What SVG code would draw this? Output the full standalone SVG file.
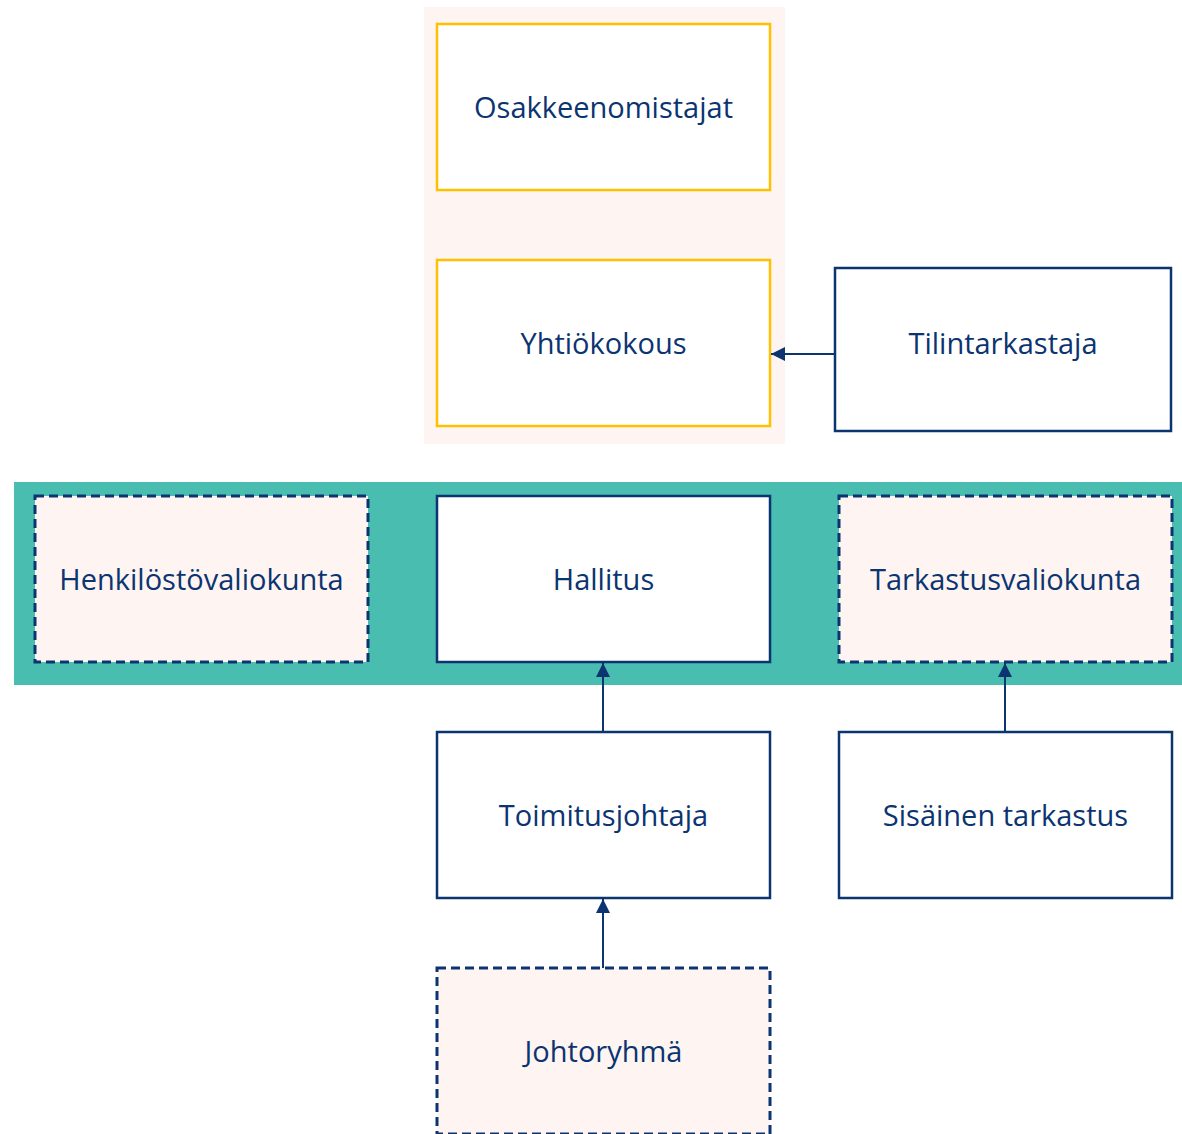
<svg xmlns="http://www.w3.org/2000/svg" width="1182" height="1134" viewBox="0 0 1182 1134">
<defs>
<style>
.t{font-family:"Open Sans","Noto Sans",sans-serif;font-size:29px;fill:#0B3470;text-anchor:middle;dominant-baseline:central}
.y{fill:#fff;stroke:#FFC000;stroke-width:2.5}
.n{fill:#fff;stroke:#0B3470;stroke-width:2.5}
.d{fill:#FEF4F2;stroke:#0B3470;stroke-width:3;stroke-dasharray:9 5}
.c{stroke:#0B3470;stroke-width:2;fill:none;marker-end:url(#ah)}
</style>
<marker id="ah" viewBox="0 0 14 14" refX="14" refY="7" markerWidth="14" markerHeight="14" markerUnits="userSpaceOnUse" orient="auto">
<path d="M0,0 L14,7 L0,14 z" fill="#0B3470"/>
</marker>
</defs>
<rect x="424" y="7" width="361" height="437" fill="#FEF4F2"/>
<rect x="14" y="482" width="1168" height="203" fill="#48BDB0"/>
<g id="osakkeenomistajat"><rect class="y" x="437" y="24" width="333" height="166"/><text class="t" x="603.5" y="106">Osakkeenomistajat</text></g>
<g id="yhtiokokous"><rect class="y" x="437" y="260" width="333" height="166"/><text class="t" x="603.5" y="342">Yhtiökokous</text></g>
<g id="tilintarkastaja"><rect class="n" x="835" y="268" width="336" height="163"/><text class="t" x="1003" y="342">Tilintarkastaja</text></g>
<g id="henkilostovaliokunta"><rect class="d" x="35" y="496" width="333" height="166"/><text class="t" x="201.5" y="578">Henkilöstövaliokunta</text></g>
<g id="hallitus"><rect class="n" x="437" y="496" width="333" height="166"/><text class="t" x="603.5" y="578">Hallitus</text></g>
<g id="tarkastusvaliokunta"><rect class="d" x="839" y="496" width="333" height="166"/><text class="t" x="1005.5" y="578">Tarkastusvaliokunta</text></g>
<g id="toimitusjohtaja"><rect class="n" x="437" y="732" width="333" height="166"/><text class="t" x="603.5" y="814">Toimitusjohtaja</text></g>
<g id="sisainen"><rect class="n" x="839" y="732" width="333" height="166"/><text class="t" x="1005.5" y="814">Sisäinen tarkastus</text></g>
<g id="johtoryhma"><rect class="d" x="437" y="968" width="333" height="166"/><text class="t" x="603.5" y="1050">Johtoryhmä</text></g>
<g id="connectors">
<path class="c" d="M834,354 H771"/>
<path class="c" d="M603,732 V663"/>
<path class="c" d="M1005,732 V663"/>
<path class="c" d="M603,968 V899"/>
</g>
</svg>
